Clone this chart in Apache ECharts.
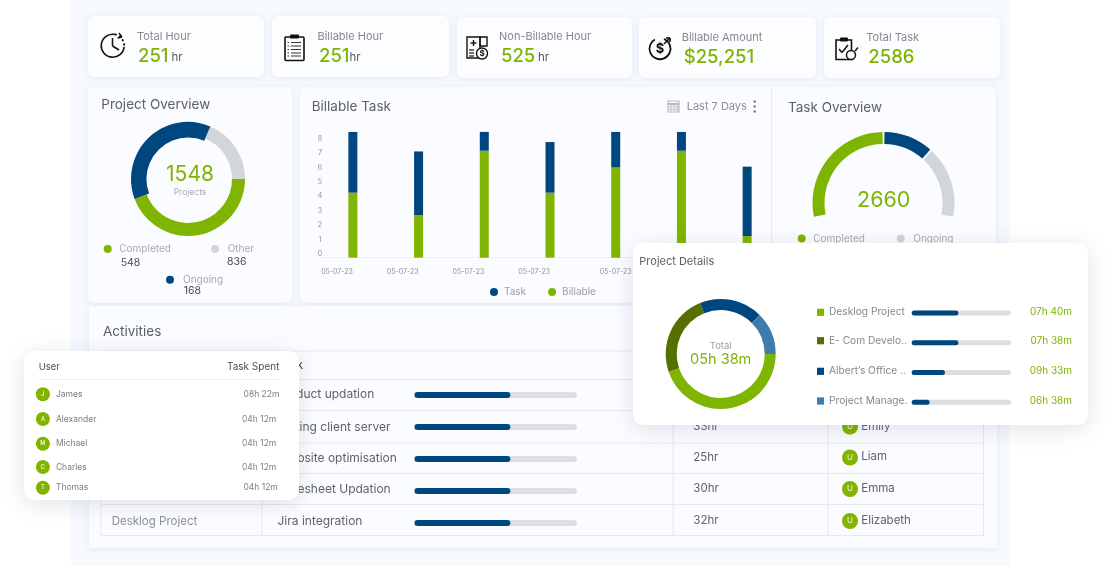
<!DOCTYPE html>
<html><head><meta charset="utf-8">
<style>html,body{margin:0;padding:0;background:#fff}#c{width:1112px;height:566px}</style>
<script src="https://cdn.jsdelivr.net/npm/echarts@6/dist/echarts.min.js"></script>
</head><body><div id="c"></div>
<script>
const barDates = ['05-07-23','05-07-23','05-07-23','05-07-23','05-07-23','05-07-23','05-07-23'];
const billable = [4.5,2.95,7.4,4.5,6.25,7.4,1.5];
const taskPart = [4.2,4.4,1.3,3.5,2.45,1.3,4.8];
const yTicks = [0,1,2,3,4,5,6,7,8];
const overviewNames = ['Completed','Ongoing','Other'];
const overviewShare = [44.3,37.1,18.6];
const taskNames = ['Completed','Ongoing','Other'];
const taskShare = [102,42,60];
const detailNames = ['Desklog Project','E- Com Develop','Albert\u2019s Office','Project Manage'];
const detailShare = [161,87,67,45];
const detailLabels = ['Desklog Project','E- Com Develo..','Albert\u2019s Office ..','Project Manage.'];
const detailProgress = [47,47,33.5,18];
const detailTimes = ['07h 40m','07h 38m','09h 33m','06h 38m'];
const activityTasks = ['Product updation','Hosting client server','Website optimisation','Timesheet Updation','Jira integration'];
const activityProgress = [59,59,59,59,59];
const activityHours = ['33hr','25hr','30hr','32hr'];
const activityUsers = ['Emily','Liam','Emma','Elizabeth'];
const popupUsers = ['James','Alexander','Michael','Charles','Thomas'];
const popupTimes = ['08h 22m','04h 12m','04h 12m','04h 12m','04h 12m'];

const GREEN='#7fb401',NAVY='#00467f',GRAY='#d3d6d8',DARK='#557000',STEEL='#3f7cac';
const FF='Inter, "Noto Sans", sans-serif';
const el=[];
function T(s,x,y,size,fill,o){o=o||{};el.push({type:'text',x,y,silent:true,zlevel:o.zl||0,z:o.z||20,style:{text:s,fill,font:(o.w||400)+' '+size+'px '+FF,textAlign:o.a||'left',textVerticalAlign:'middle'}});}
function R(x,y,w,h,fill,o){o=o||{};el.push({type:'rect',silent:true,zlevel:o.zl||0,z:o.z||1,shape:{x,y,width:w,height:h,r:o.r||0},style:Object.assign({fill},o.s||{})});}
function C(x,y,r,fill,o){o=o||{};el.push({type:'circle',silent:true,zlevel:o.zl||0,z:o.z||10,shape:{cx:x,cy:y,r},style:Object.assign({fill},o.s||{})});}
function L(x1,y1,x2,y2,stroke,lw,o){o=o||{};el.push({type:'line',silent:true,zlevel:o.zl||0,z:o.z||5,shape:{x1,y1,x2,y2},style:Object.assign({stroke,lineWidth:lw||1},o.s||{})});}
function A(x,y,r,a0,a1,lw,o){o=o||{};el.push({type:'arc',silent:true,zlevel:0,z:12,shape:{cx:x,cy:y,r,startAngle:a0,endAngle:a1},style:Object.assign({stroke:'#111',lineWidth:lw||1.5,fill:null},o)});}

const cardShadow={shadowColor:'rgba(90,110,140,0.10)',shadowBlur:6,shadowOffsetY:1};
// page panel
R(71,0,939,566,'#f6f9fe',{z:0});
// stat cards
[[88,176,16],[272,177,16],[457,175,17],[639,177,17],[824,176,17]].forEach(c=>R(c[0],c[2],c[1],61,'#fcfdff',{r:6,s:cardShadow}));
const LBL='#85898e',HR='#55595e',NUM=18.5;
T('Total Hour',137,36.5,11,LBL);T('251',138,56,NUM,GREEN,{w:500});T('hr',171.5,58,11.5,HR);
T('Billable Hour',317.5,36.5,11,LBL);T('251',319,56,NUM,GREEN,{w:500});T('hr',349.5,58,11.5,HR);
T('Non-Billable Hour',499,36.5,11,LBL);T('525',501,56,NUM,GREEN,{w:500});T('hr',538,58,11.5,HR);
T('Billable Amount',681.7,37.5,11,LBL);T('$25,251',683.7,57,NUM,GREEN,{w:500});
T('Total Task',866.3,37.5,11,LBL);T('2586',868.3,57,NUM,GREEN,{w:500});
// chart cards
R(88,87,204,216,'#fbfcff',{r:6,s:cardShadow});
R(300,87,696,216,'#fbfcff',{r:6,s:cardShadow});
L(771.5,88,771.5,303,'#e6e9ed',1);
const TIT='#5c6166';
T('Project Overview',101.3,104.5,13.5,TIT);
T('Billable Task',311.7,107,13.5,TIT);
T('Task Overview',788,107.5,13.5,TIT);
T('Last 7 Days',686.7,107,11,'#8c9095');
[101.5,106.5,111.5].forEach(y=>C(754.7,y,1.2,'#777b80'));
// calendar icon
R(668,101,11,11,'none',{z:6,s:{stroke:'#b6babd',lineWidth:1.2}});
L(668,104,679,104,'#b6babd',2);[671,674,677].forEach(x=>{L(x,105,x,111.5,'#c4c7ca',1.2);});[107,109.5].forEach(y=>L(668,y,679,y,'#c4c7ca',1));
// project overview texts
T('1548',190,175,21,GREEN,{a:'center'});T('Projects',190,192.7,8.5,'#a9adb0',{a:'center'});
const LEG=10;
C(107.7,249,4,GREEN);T('Completed',119.3,249,LEG,'#a5a9ac');T('548',120.7,262.5,10.5,'#4a4e52');
C(215,249,4,GRAY);T('Other',227.7,249,LEG,'#a5a9ac');T('836',227,262,10.5,'#4a4e52');
C(170,279.7,4,NAVY);T('Ongoing',183,279.7,LEG,'#a5a9ac');T('168',183.7,290.5,10.5,'#4a4e52');
// task overview texts
T('2660',883.7,201,21.5,GREEN,{a:'center'});
C(801.7,238.5,4,GREEN);T('Completed',813.3,238.5,LEG,'#a5a9ac');
C(900.7,238.5,4,GRAY);T('Ongoing',913.3,238.5,LEG,'#a5a9ac');
// activities card
R(89,306,908,242,'#fbfcff',{r:2,s:cardShadow});
T('Activities',103,331.5,13.5,TIT);
const LN='#e7e9ed';
[351,379.5,410.5,443,473.5,504.5,535.5].forEach(y=>L(101,y,983.5,y,LN,1));
[101,262,673,828,983.5].forEach(x=>L(x,351,x,535.5,LN,1));
T('Task',303,366,11.5,'#3c4044',{a:'right'});
const TX='#5f6368';
[374.3,390.4,396.9,390.7].forEach((r,i)=>T(activityTasks[i],r,[394.5,427.5,458,489.5][i],12,TX,{a:'right'}));
T(activityTasks[4],277.5,521.7,12,TX);
T('Desklog Project',111.7,521.7,11.5,'#8c9094');
activityHours.forEach((h,i)=>T(h,693.3,[426.7,457.5,488.7,521][i],11.5,TX));
activityUsers.forEach((u,i)=>{const y=[426.7,457.5,489,521][i];C(850,y,8,GREEN);T('U',850,y,8,'#e8f2cc',{a:'center'});T(u,861.3,y-0.5,11.5,TX);});
// icons
// clock
A(112.7,45.7,11.5,0.1,4.9,1.6);
A(112.7,45.7,11.5,4.9,6.4,1.8,{lineDash:[2,2.5]});
L(112.5,38,112.5,46,'#111',1.5,{z:12});L(112.5,46,119,50,'#111',1.5,{z:12});
L(119,33,122,37,'#111',1.4,{z:12});L(122,37,117.5,38,'#111',1.4,{z:12});
// clipboard
R(285,37,19,23.5,'none',{z:12,r:1,s:{stroke:'#111',lineWidth:1.6}});R(290,34.5,9,4,'#111',{z:13,r:1});
[42.5,46,49.5,53,56].forEach(y=>{L(291,y,301,y,'#333',1,{z:13});L(287.5,y,289,y,'#333',1,{z:13});});
// invoice
R(467,37,13,21,'none',{z:12,s:{stroke:'#111',lineWidth:1.4}});R(480,37,7,9,'none',{z:12,s:{stroke:'#111',lineWidth:1.4}});
L(473.5,40,473.5,46,'#111',1.4,{z:13});L(470.5,43,476.5,43,'#111',1.4,{z:13});
[50,53,56].forEach(y=>L(469,y,474,y,'#111',1.2,{z:13}));
C(482,53.5,5.5,'#fcfdff',{z:13,s:{stroke:'#111',lineWidth:1.4}});T('$',482,53.5,8,'#111',{a:'center',w:700,z:14});
// dollar arrow
A(660,48.7,10.5,5.1,4.2,1.8);T('$',660,49,13,'#111',{a:'center',w:700,z:13});
L(664,44,670,38,'#111',1.6,{z:13});L(666,38,670,38,'#111',1.6,{z:13});L(670,38,670,42,'#111',1.6,{z:13});
// clipboard check
R(836,40,15.5,19.5,'none',{z:12,s:{stroke:'#111',lineWidth:1.6}});R(840,37.5,8,4,'#111',{z:13,r:1});
L(839,49,842,52.5,'#111',1.5,{z:13});L(842,52.5,848,45,'#111',1.5,{z:13});
C(851,55,4.5,'#fcfdff',{z:13,s:{stroke:'#111',lineWidth:1.5}});L(855,51,858,47.5,'#111',1.5,{z:13});

// user popup
const P=5;
const popShadow={shadowColor:'rgba(60,80,110,0.16)',shadowBlur:22,shadowOffsetY:4};
R(24,351,275,149,'#ffffff',{zl:P,r:10,s:popShadow});
T('User',38.7,367,9.5,'#4a4e52',{zl:P});T('Task Spent',279.4,367,10,'#4a4e52',{zl:P,a:'right'});
L(38.7,379.5,279.4,379.5,'#eceef0',1,{zl:P});
popupUsers.forEach((u,i)=>{const y=[394.3,419,443.7,467,487.7][i];
 C(42.9,y,7,GREEN,{zl:P});T(u[0],42.9,y,5.5,'#f0f6dc',{zl:P,a:'center',w:600});T(u,55.9,y,8.5,'#7a7e82',{zl:P});
 T(popupTimes[i],[279.4,276.3,276.3,276.3,277.8][i],y,8.5,'#7a7e82',{zl:P,a:'right'});});
// details popup
R(633,243,455,182,'#ffffff',{zl:P,r:10,s:popShadow});
T('Project Details',639.3,261.7,11,'#5a5e62',{zl:P});
T('Total',720.7,345.7,9.5,'#9a9ea2',{zl:P,a:'center'});T('05h 38m',720.7,359.3,14.5,GREEN,{zl:P,a:'center'});
const detailColors=[GREEN,DARK,NAVY,STEEL];
detailLabels.forEach((s,i)=>{const y=[312.3,340.7,371.3,401][i];
 R(817,y-3.6,7,7.2,detailColors[i],{zl:P,z:10});T(s,829,y,10.2,'#86898d',{zl:P});
 T(detailTimes[i],1072,y,10,GREEN,{zl:P,a:'right'});});

const pieBase={type:'pie',silent:true,label:{show:false},labelLine:{show:false},emphasis:{disabled:true},animation:false,zlevel:1};
const trans={color:'rgba(0,0,0,0)'};
const dates=barDates.map((d,i)=>i===4?{value:d,textStyle:{align:'center'}}:d);
const opt={animation:false,backgroundColor:'#ffffff',
 graphic:{elements:el},
 legend:{data:['Task','Billable'],left:490,top:287,padding:0,itemWidth:8,itemHeight:8,itemGap:22,icon:'circle',selectedMode:false,zlevel:1,
  textStyle:{fontSize:10,color:'#9a9ea2',fontFamily:FF,padding:[0,0,0,1]}},
 grid:[
  {left:320,width:460,top:127.6,height:130.1,show:false},
  {left:414.5,width:162.5,top:379,height:160,show:false},
  {left:911.7,width:99.3,top:298,height:119,show:false}],
 xAxis:[
  {gridIndex:0,type:'category',zlevel:1,data:dates,axisTick:{show:false},axisLine:{lineStyle:{color:'#eff1f4'}},
   axisLabel:{interval:0,hideOverlap:false,align:'right',fontSize:7,color:'#8e9296',fontFamily:FF,margin:11}},
  {gridIndex:1,type:'value',min:0,max:100,show:false},
  {gridIndex:2,type:'value',min:0,max:100,show:false}],
 yAxis:[
  {gridIndex:0,type:'value',zlevel:1,min:0,max:9,interval:1,splitLine:{show:false},axisLine:{show:false},axisTick:{show:false},
   axisLabel:{customValues:yTicks,align:'center',verticalAlign:'bottom',margin:0,fontSize:7,color:'#8e9296',fontFamily:FF}},
  {gridIndex:1,type:'category',inverse:true,data:activityTasks,show:false},
  {gridIndex:2,type:'category',inverse:true,data:detailLabels,show:false}],
 series:[
  {name:'Billable',type:'bar',stack:'a',xAxisIndex:0,yAxisIndex:0,barWidth:9,data:billable,itemStyle:{color:GREEN},silent:true,zlevel:1},
  {name:'Task',type:'bar',stack:'a',xAxisIndex:0,yAxisIndex:0,barWidth:9,data:taskPart,itemStyle:{color:NAVY},silent:true,zlevel:1},
  {name:'Activity progress',type:'bar',xAxisIndex:1,yAxisIndex:1,barWidth:6,data:activityProgress,silent:true,zlevel:1,
   itemStyle:{color:NAVY,borderRadius:3},showBackground:true,backgroundStyle:{color:'#dcdee0',borderRadius:3}},
  {name:'Detail progress',type:'bar',xAxisIndex:2,yAxisIndex:2,barWidth:5,data:detailProgress,silent:true,zlevel:P+1,
   itemStyle:{color:NAVY,borderRadius:2.5},showBackground:true,backgroundStyle:{color:'#dcdee0',borderRadius:2.5}},
  Object.assign({},pieBase,{name:'Project Overview',center:[188,179],radius:[44,57],startAngle:0,
   data:overviewNames.map((n,i)=>({name:n,value:overviewShare[i],itemStyle:i===1?trans:{color:[GREEN,NAVY,GRAY][i]}}))}),
  Object.assign({},pieBase,{name:'Project Overview Ongoing',center:[188,179],radius:[41.5,57],startAngle:0,z:3,
   data:overviewNames.map((n,i)=>({name:n,value:overviewShare[i],itemStyle:i===1?{color:NAVY}:trans}))}),
  Object.assign({},pieBase,{name:'Task Overview',center:[883.5,203],radius:[59,71],startAngle:192,endAngle:-12,padAngle:1.6,
   data:taskNames.map((n,i)=>({name:n,value:taskShare[i],itemStyle:{color:[GREEN,NAVY,GRAY][i]}}))}),
  Object.assign({},pieBase,{name:'Project Details',center:[720.7,354],radius:[44,55],startAngle:0,zlevel:P+1,
   data:detailNames.map((n,i)=>({name:n,value:detailShare[i],itemStyle:{color:detailColors[i]}}))})
 ]};
const chart=echarts.init(document.getElementById('c'));
chart.setOption(opt);
</script></body></html>
